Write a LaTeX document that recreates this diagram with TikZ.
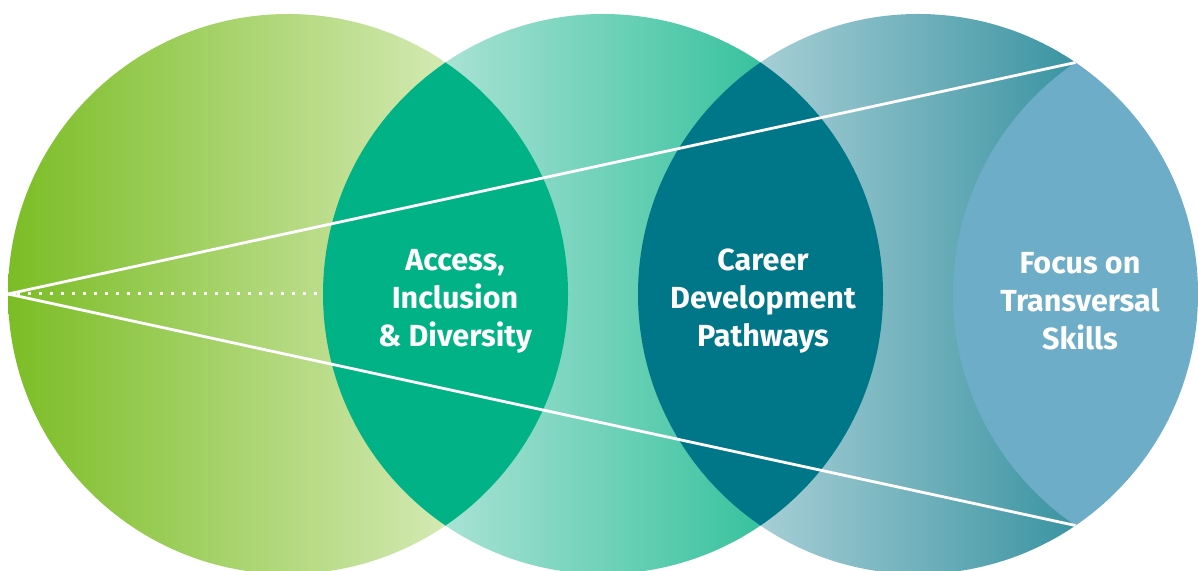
\documentclass[tikz,border=0pt]{standalone}
\usepackage{fontspec}
\setmainfont{Fira Sans}
\definecolor{leafgreen}{HTML}{7BBD25}
\definecolor{leafpale}{HTML}{D3E9B2}
\definecolor{mintpale}{HTML}{A8E2D4}
\definecolor{mintdeep}{HTML}{38C29E}
\definecolor{seapale}{HTML}{A6CED5}
\definecolor{seadeep}{HTML}{3A94A2}
\definecolor{lensgreen}{HTML}{00B286}
\definecolor{lensteal}{HTML}{007689}
\definecolor{lensblue}{HTML}{6EADC7}
\begin{document}
\begin{tikzpicture}[x=1pt,y=1pt,
	lenstext/.style={text=white,align=center,font=\bfseries\fontsize{30.5}{38}\selectfont},
	ray/.style={white,line width=2.8pt}]
	\useasboundingbox (0,0) rectangle (1198,570);
	\coordinate (c1) at (288,276);
	\coordinate (c2) at (603,276);
	\coordinate (c3) at (918,276);
	\coordinate (c4) at (1233,276);
	% circles with their gradients
	\begin{scope}
		\clip (c1) circle (280);
		\shade[left color=leafgreen,right color=leafpale] (8,0) rectangle (445.5,570);
	\end{scope}
	\begin{scope}
		\clip (c2) circle (280);
		\shade[left color=mintpale,right color=mintdeep] (445.5,0) rectangle (760.5,570);
	\end{scope}
	\begin{scope}
		\clip (c3) circle (280);
		\shade[left color=seapale,right color=seadeep] (760.5,0) rectangle (1075.5,570);
	\end{scope}
	% overlaps
	\begin{scope}
		\clip (c1) circle (280);
		\fill[lensgreen] (c2) circle (280);
	\end{scope}
	\begin{scope}
		\clip (c2) circle (280);
		\fill[lensteal] (c3) circle (280);
	\end{scope}
	\begin{scope}
		\clip (c3) circle (280);
		\fill[lensblue] (c4) circle (280);
	\end{scope}
	\coordinate (apex) at (8,276);
	\coordinate (rim) at (323,276);
	\coordinate (tip top) at (1075.5,507.5);
	\coordinate (tip bottom) at (1075.5,44.5);
	\draw[ray] (apex)--(tip top);
	\draw[ray] (apex)--(tip bottom);
	\draw[white,line width=3pt,dash pattern=on 3pt off 8pt,shorten <=9pt] (apex)--(rim);
	\node[lenstext] (access) at (455,269) {Access,\\Inclusion\\\& Diversity};
	\node[lenstext] (career) at (763,269) {Career\\Development\\Pathways};
	\node[lenstext] (focus) at (1080,269) {Focus on\\Transversal\\Skills};
\end{tikzpicture}
\end{document}
